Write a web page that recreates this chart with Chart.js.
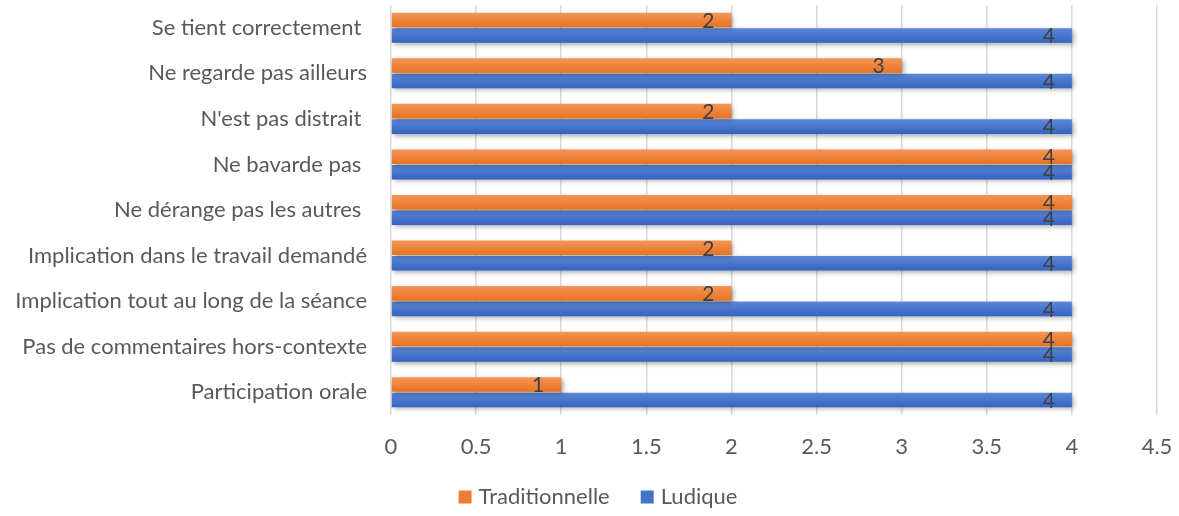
<!DOCTYPE html>
<html>
<head>
<meta charset="utf-8">
<script src="https://cdn.jsdelivr.net/npm/chart.js@4/dist/chart.umd.min.js"></script>
<style>
  body { margin: 0; background: #fff; }
  #wrap { width: 1179px; height: 516px; position: relative; }
</style>
</head>
<body>
<div id="wrap"><canvas id="chart"></canvas></div>
<script>
// Data
const categories = [
    'Se tient correctement ',
    'Ne regarde pas ailleurs',
    "N'est pas distrait ",
    'Ne bavarde pas ',
    'Ne dérange pas les autres ',
    'Implication dans le travail demandé',
    'Implication tout au long de la séance',
    'Pas de commentaires hors-contexte',
    'Participation orale'
];
const traditionnelle = [2, 3, 2, 4, 4, 2, 2, 4, 1];
const ludique = [4, 4, 4, 4, 4, 4, 4, 4, 4];
const seriesNames = ['Traditionnelle', 'Ludique'];
const seriesColors = ['#ed7d31', '#4472c4'];

const CAT_PCT = 0.68;
const BAR_PCT = 0.94;
const FONT = 'Lato, "Open Sans", sans-serif';

// vertical gradient for each bar, computed from the category scale
function barGradient(top, bottom) {
    return function (ctx) {
        const chart = ctx.chart;
        const yScale = chart.scales.y;
        if (!chart.chartArea || !yScale || ctx.dataIndex === undefined) return bottom;
        const center = yScale.getPixelForValue(ctx.dataIndex);
        const cat = (yScale.height / categories.length) * CAT_PCT;
        const start = center - cat / 2 + ctx.datasetIndex * cat / 2;
        const g = chart.ctx.createLinearGradient(0, start, 0, start + cat / 2);
        g.addColorStop(0, top);
        g.addColorStop(1, bottom);
        return g;
    };
}

// soft shadow under the bars, value labels, and the bottom legend
const barDecor = {
    id: 'barDecor',
    beforeDatasetsDraw(chart) {
        const ctx = chart.ctx;
        ctx.save();
        ctx.shadowColor = 'rgba(0,0,0,0.35)';
        ctx.shadowBlur = 5;
        ctx.shadowOffsetX = 2;
        ctx.shadowOffsetY = 2;
    },
    afterDatasetsDraw(chart) {
        const ctx = chart.ctx;
        ctx.restore();
        ctx.save();
        ctx.font = '21px ' + FONT;
        ctx.fillStyle = '#404040';
        ctx.textAlign = 'right';
        ctx.textBaseline = 'middle';
        chart.data.datasets.forEach((ds, i) => {
            chart.getDatasetMeta(i).data.forEach((bar, j) => {
                ctx.fillText(String(ds.data[j]), bar.x - 17, bar.y + 1);
            });
        });
        ctx.restore();
    },
    afterDraw(chart) {
        const ctx = chart.ctx;
        ctx.save();
        ctx.font = '22px ' + FONT;
        ctx.textBaseline = 'middle';
        const box = 13, gap = 7, spacing = 31;
        const widths = seriesNames.map(n => ctx.measureText(n).width);
        const total = widths.reduce((a, w) => a + box + gap + w, 0) + spacing * (seriesNames.length - 1);
        let x = 598 - total / 2;
        const y = 497;
        seriesNames.forEach((name, i) => {
            ctx.fillStyle = seriesColors[i];
            ctx.fillRect(x, y - box / 2, box, box);
            ctx.fillStyle = '#595959';
            ctx.fillText(name, x + box + gap, y);
            x += box + gap + widths[i] + spacing;
        });
        ctx.restore();
    }
};

new Chart(document.getElementById('chart'), {
    type: 'bar',
    data: {
        labels: categories,
        datasets: [
            {
                label: seriesNames[0],
                data: traditionnelle,
                backgroundColor: barGradient('#f3975a', '#e8711f'),
                categoryPercentage: CAT_PCT,
                barPercentage: BAR_PCT
            },
            {
                label: seriesNames[1],
                data: ludique,
                backgroundColor: barGradient('#5f8ad8', '#3261c1'),
                categoryPercentage: CAT_PCT,
                barPercentage: BAR_PCT
            }
        ]
    },
    options: {
        indexAxis: 'y',
        responsive: true,
        maintainAspectRatio: false,
        animation: false,
        layout: { padding: { top: 5, right: 22, bottom: 0, left: 0 } },
        scales: {
            x: {
                min: 0,
                max: 4.5,
                ticks: {
                    stepSize: 0.5,
                    color: '#595959',
                    font: { family: FONT, size: 22 },
                    padding: 19,
                    callback: (v) => String(v)
                },
                grid: { color: '#d9d9d9', lineWidth: 1.5, drawTicks: false },
                border: { display: false },
                afterFit(scale) {
                    scale.height = 101;
                    scale.paddingLeft = 0;
                    scale.paddingRight = 0;
                }
            },
            y: {
                ticks: {
                    color: '#595959',
                    font: { family: FONT, size: 22 },
                    padding: 24
                },
                grid: { display: false, drawTicks: false },
                border: { display: false },
                afterFit(scale) {
                    scale.width = 391;
                    scale.paddingTop = 0;
                    scale.paddingBottom = 0;
                }
            }
        },
        plugins: {
            legend: { display: false },
            tooltip: { enabled: false }
        }
    },
    plugins: [barDecor]
});
</script>
</body>
</html>
